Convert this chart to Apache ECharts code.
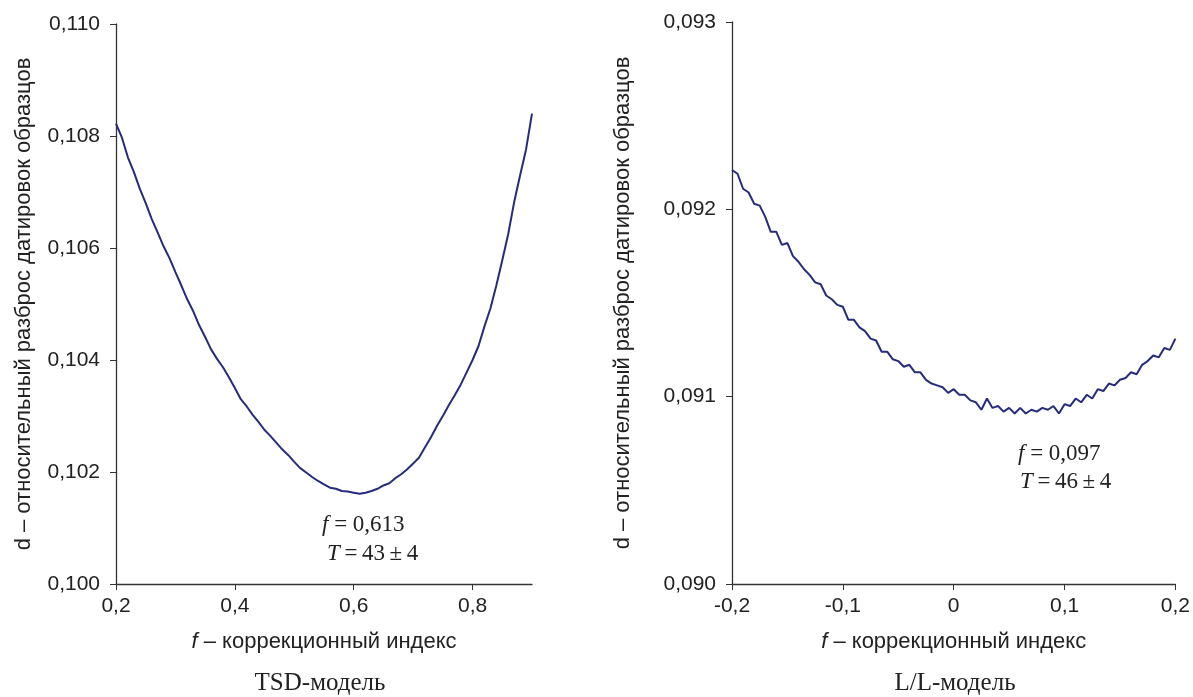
<!DOCTYPE html>
<html>
<head>
<meta charset="utf-8">
<title>d(f)</title>
<script src="https://cdn.jsdelivr.net/npm/echarts@6/dist/echarts.min.js"></script>
<style>
    html, body { margin: 0; padding: 0; background: #fff; }
    #chart { width: 1193px; height: 697px; }
</style>
</head>
<body>
<div id="chart"></div>
<script>
// TSD-модель: f и d
var tsdF = [0.20, 0.21, 0.22, 0.23, 0.24, 0.25, 0.26, 0.27, 0.28, 0.29,
    0.30, 0.31, 0.32, 0.33, 0.34, 0.35, 0.36, 0.37, 0.38, 0.39,
    0.40, 0.41, 0.42, 0.43, 0.44, 0.45, 0.46, 0.47, 0.48, 0.49,
    0.50, 0.51, 0.52, 0.53, 0.54, 0.55, 0.56, 0.57, 0.58, 0.59,
    0.60, 0.61, 0.62, 0.63, 0.64, 0.65, 0.66, 0.67, 0.68, 0.69,
    0.70, 0.71, 0.72, 0.73, 0.74, 0.75, 0.76, 0.77, 0.78, 0.79,
    0.80, 0.81, 0.82, 0.83, 0.84, 0.85, 0.86, 0.87, 0.88, 0.89, 0.90];
var tsdD = [0.10822, 0.10797, 0.10762, 0.10736, 0.10706, 0.10680, 0.10652, 0.10628, 0.10603, 0.10582,
    0.10557, 0.10533, 0.10508, 0.10487, 0.10462, 0.10441, 0.10419, 0.10402, 0.10387, 0.10369,
    0.10350, 0.10330, 0.10317, 0.10302, 0.10289, 0.10275, 0.10264, 0.10252, 0.10240, 0.10230,
    0.10218, 0.10207, 0.10199, 0.10191, 0.10184, 0.10178, 0.10172, 0.10170, 0.10166, 0.10165,
    0.10163, 0.10161, 0.10163, 0.10166, 0.10170, 0.10176, 0.10180, 0.10189, 0.10196, 0.10205,
    0.10215, 0.10226, 0.10244, 0.10262, 0.10282, 0.10300, 0.10319, 0.10337, 0.10356, 0.10378,
    0.10400, 0.10425, 0.10460, 0.10492, 0.10533, 0.10578, 0.10625, 0.10682, 0.10730, 0.10776, 0.10840];

// L/L-модель: f и d
var llF = [-0.200, -0.195, -0.190, -0.185, -0.180, -0.175, -0.170, -0.165, -0.160, -0.155,
    -0.150, -0.145, -0.140, -0.135, -0.130, -0.125, -0.120, -0.115, -0.110, -0.105,
    -0.100, -0.095, -0.090, -0.085, -0.080, -0.075, -0.070, -0.065, -0.060, -0.055,
    -0.050, -0.045, -0.040, -0.035, -0.030, -0.025, -0.020, -0.015, -0.010, -0.005,
    0.000, 0.005, 0.010, 0.015, 0.020, 0.025, 0.030, 0.035, 0.040, 0.045,
    0.050, 0.055, 0.060, 0.065, 0.070, 0.075, 0.080, 0.085, 0.090, 0.095,
    0.100, 0.105, 0.110, 0.115, 0.120, 0.125, 0.130, 0.135, 0.140, 0.145,
    0.150, 0.155, 0.160, 0.165, 0.170, 0.175, 0.180, 0.185, 0.190, 0.195, 0.200];
var llD = [0.09221, 0.09219, 0.09211, 0.09209, 0.09203, 0.09202, 0.09196, 0.09188, 0.09188, 0.09181,
    0.09182, 0.09175, 0.09172, 0.09168, 0.09165, 0.09161, 0.09160, 0.09154, 0.09152, 0.09149,
    0.09148, 0.09141, 0.09141, 0.09137, 0.09135, 0.09131, 0.09130, 0.09124, 0.09124, 0.09120,
    0.09119, 0.09116, 0.09117, 0.09113, 0.09113, 0.09109, 0.09107, 0.09106, 0.09105, 0.09102,
    0.09104, 0.09101, 0.09101, 0.09098, 0.09097, 0.09093, 0.09099, 0.09094, 0.09095, 0.09092,
    0.09094, 0.09091, 0.09094, 0.09091, 0.09093, 0.09092, 0.09094, 0.09093, 0.09095, 0.09091,
    0.09096, 0.09095, 0.09099, 0.09097, 0.09101, 0.09099, 0.09104, 0.09103, 0.09107, 0.09106,
    0.09109, 0.09110, 0.09113, 0.09112, 0.09117, 0.09119, 0.09122, 0.09121, 0.09126, 0.09125, 0.09131];

// подписи делений
var tsdXTicks = [0.2, 0.4, 0.6, 0.8];
var llXTicks = [-0.2, -0.1, 0, 0.1, 0.2];
var yTitle = 'd – относительный разброс датировок образцов';
var xTitle = '{i|f} – коррекционный индекс';

window.onload = function () {
    initChart();
}

function zip(xs, ys) {
    return xs.map(function (x, i) { return [x, ys[i]]; });
}

function comma(v, digits) {
    if (v === 0) return '0';
    return v.toFixed(digits).replace('.', ',');
}

function xAxisOf(idx, min, max, ticks) {
    return {
        type: 'value', gridIndex: idx, min: min, max: max,
        name: xTitle, nameLocation: 'middle', nameGap: 47,
        nameTextStyle: {
            fontSize: 22, color: '#222', fontFamily: 'Liberation Sans',
            rich: { i: { fontSize: 22, fontStyle: 'italic', color: '#222', fontFamily: 'Liberation Sans' } }
        },
        axisLine: { show: true, onZero: false, lineStyle: { color: '#333', width: 1.3 } },
        axisTick: { show: true, length: 6, customValues: ticks, lineStyle: { color: '#333' } },
        axisLabel: {
            customValues: ticks, margin: 12, fontSize: 21, color: '#222', fontFamily: 'Liberation Sans',
            formatter: function (v) { return comma(v, 1); }
        },
        splitLine: { show: false }
    };
}

function yAxisOf(idx, min, max, step, gap) {
    return {
        type: 'value', gridIndex: idx, min: min, max: max, interval: step,
        name: yTitle, nameLocation: 'middle', nameGap: gap,
        nameTextStyle: { fontSize: 22, color: '#222', fontFamily: 'Liberation Sans' },
        axisLine: { show: true, onZero: false, lineStyle: { color: '#333', width: 1.3 } },
        axisTick: { show: true, length: 6, lineStyle: { color: '#333' } },
        axisLabel: {
            margin: 16, fontSize: 21, color: '#222', fontFamily: 'Liberation Sans',
            formatter: function (v) { return comma(v, 3); }
        },
        splitLine: { show: false }
    };
}

function noteText(x, y, str) {
    return {
        type: 'text', x: x, y: y,
        style: {
            text: str, textVerticalAlign: 'middle',
            font: '23px "Liberation Serif"', fill: '#222',
            rich: { i: { fontStyle: 'italic', fontSize: 23, fontFamily: 'Liberation Serif', fill: '#222' } }
        }
    };
}

function captionText(x, str) {
    return {
        type: 'text', x: x, y: 683,
        style: {
            text: str, textAlign: 'center', textVerticalAlign: 'middle',
            font: '25px "Liberation Serif"', fill: '#222'
        }
    };
}

function initChart() {
    var chart = echarts.init(document.getElementById('chart'));
    chart.setOption({
        backgroundColor: '#fff',
        animation: false,
        grid: [
            { left: 116, top: 24, width: 416, height: 560 },
            { left: 732, top: 22, width: 444, height: 562 }
        ],
        xAxis: [
            xAxisOf(0, 0.2, 0.9, tsdXTicks),
            xAxisOf(1, -0.2, 0.2, llXTicks)
        ],
        yAxis: [
            yAxisOf(0, 0.100, 0.110, 0.002, 81),
            yAxisOf(1, 0.090, 0.093, 0.001, 98)
        ],
        series: [
            {
                type: 'line', xAxisIndex: 0, yAxisIndex: 0, showSymbol: false,
                lineStyle: { color: '#272b7c', width: 2 },
                data: zip(tsdF, tsdD)
            },
            {
                type: 'line', xAxisIndex: 1, yAxisIndex: 1, showSymbol: false,
                lineStyle: { color: '#272b7c', width: 2 },
                data: zip(llF, llD)
            }
        ],
        graphic: [
            noteText(322, 525, '{i|f} = 0,613'),
            noteText(327, 554, '{i|T}\u2009=\u200943\u2009±\u20094'),
            noteText(1018, 454, '{i|f} = 0,097'),
            noteText(1020, 482, '{i|T}\u2009=\u200946\u2009±\u20094'),
            captionText(320, 'TSD-модель'),
            captionText(955, 'L/L-модель')
        ]
    });
}
</script>
</body>
</html>
